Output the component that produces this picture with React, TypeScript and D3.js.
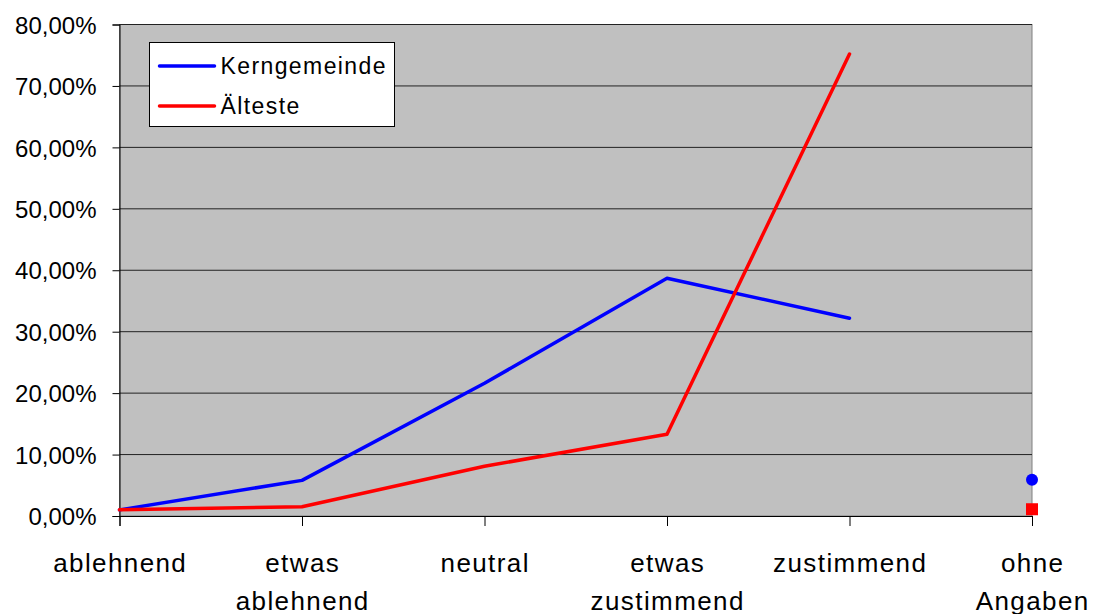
import { useEffect, useRef } from "react";
import * as d3 from "d3";

const WIDTH = 1093;
const HEIGHT = 614;
const MARGINS = {
  LEFT: 119.5,
  RIGHT: 61,
  TOP: 24.5,
  BOTTOM: 98,
};

// categories (second line of label after "|")
const categories = [
  "ablehnend",
  "etwas|ablehnend",
  "neutral",
  "etwas|zustimmend",
  "zustimmend",
  "ohne|Angaben",
];
const yTicks = [0, 10, 20, 30, 40, 50, 60, 70, 80];

// percent values, last category is drawn as a lone marker
const kerngemeinde = [1.0, 5.8, 21.6, 38.7, 32.2, 5.9];
const aelteste = [1.0, 1.5, 8.1, 13.3, 75.2, 1.1];

const seriesNames = ["Kerngemeinde", "Älteste"];
const seriesColors = ["#0000FF", "#FF0000"];

const FONT = "'Liberation Sans', Arial, sans-serif";

const App = () => {
  const svgRef = useRef<SVGSVGElement | null>(null);

  useEffect(() => {
    const svg = d3.select(svgRef.current);
    svg.selectAll("*").remove();

    const innerW = WIDTH - MARGINS.LEFT - MARGINS.RIGHT;
    const innerH = HEIGHT - MARGINS.TOP - MARGINS.BOTTOM;

    const xScale = d3
      .scalePoint<string>()
      .domain(categories)
      .range([0, innerW]);
    const yScale = d3.scaleLinear().domain([0, 80]).range([innerH, 0]);

    const g = svg
      .append("g")
      .attr("transform", `translate(${MARGINS.LEFT}, ${MARGINS.TOP})`);

    // plot background
    g.append("rect")
      .attr("width", innerW)
      .attr("height", innerH)
      .attr("fill", "#C0C0C0")
      .attr("stroke", "#808080")
      .attr("stroke-width", 1);

    // grid lines
    g.selectAll(".grid")
      .data(yTicks.slice(1))
      .join("line")
      .attr("class", "grid")
      .attr("x1", 0)
      .attr("x2", innerW)
      .attr("y1", (d) => yScale(d))
      .attr("y2", (d) => yScale(d))
      .attr("stroke", "#222")
      .attr("stroke-width", 1);

    // y axis
    const yAxis = d3
      .axisLeft(yScale)
      .tickValues(yTicks)
      .tickSize(7)
      .tickPadding(16)
      .tickFormat((d) => (d as number).toFixed(2).replace(".", ",") + "%");
    const yG = g.append("g").call(yAxis as any);
    yG.select(".domain").attr("stroke", "#000");
    yG.selectAll(".tick line").attr("stroke", "#000");
    yG.selectAll("text")
      .attr("font-family", FONT)
      .attr("font-size", 24)
      .attr("fill", "#000")
      .attr("dy", "0.36em");

    // x axis
    const xAxis = d3.axisBottom(xScale).tickSize(10).tickFormat(() => "");
    const xG = g
      .append("g")
      .attr("transform", `translate(0, ${innerH})`)
      .call(xAxis as any);
    xG.select(".domain").attr("stroke", "#000");
    xG.selectAll(".tick line").attr("stroke", "#000");

    const labels = g
      .append("g")
      .selectAll("text")
      .data(categories)
      .join("text")
      .attr("x", (d) => xScale(d)!)
      .attr("y", innerH + 56)
      .attr("text-anchor", "middle")
      .attr("font-family", FONT)
      .attr("font-size", 26)
      .attr("letter-spacing", 1.4)
      .attr("fill", "#000");
    labels.each(function (d) {
      const parts = d.split("|");
      d3.select(this)
        .selectAll("tspan")
        .data(parts)
        .join("tspan")
        .attr("x", xScale(d)! + 0.7)
        .attr("dy", (_, i) => (i === 0 ? 0 : 38))
        .text((p) => p);
    });

    // lines
    const allSeries = [kerngemeinde, aelteste];
    const lineGen = d3
      .line<number>()
      .x((_, i) => xScale(categories[i])!)
      .y((d) => yScale(d));

    allSeries.forEach((values, si) => {
      g.append("path")
        .datum(values.slice(0, 5))
        .attr("d", lineGen)
        .attr("fill", "none")
        .attr("stroke", seriesColors[si])
        .attr("stroke-width", 3.5)
        .attr("stroke-linejoin", "round")
        .attr("stroke-linecap", "round");
    });

    // lone markers for "ohne Angaben"
    const lastCat = categories[5];
    g.append("circle")
      .attr("cx", xScale(lastCat)!)
      .attr("cy", yScale(kerngemeinde[5]))
      .attr("r", 6)
      .attr("fill", seriesColors[0]);
    g.append("rect")
      .attr("x", xScale(lastCat)! - 6)
      .attr("y", yScale(aelteste[5]) - 6)
      .attr("width", 12)
      .attr("height", 12)
      .attr("fill", seriesColors[1]);

    // legend
    const legend = svg.append("g").attr("transform", "translate(149.5, 42.5)");
    legend
      .append("rect")
      .attr("width", 245)
      .attr("height", 84)
      .attr("fill", "#fff")
      .attr("stroke", "#000")
      .attr("stroke-width", 1);
    seriesNames.forEach((name, i) => {
      const y = 23.5 + i * 40;
      legend
        .append("line")
        .attr("x1", 10)
        .attr("x2", 65)
        .attr("y1", y)
        .attr("y2", y)
        .attr("stroke", seriesColors[i])
        .attr("stroke-width", 3.5)
        .attr("stroke-linecap", "round");
      legend
        .append("text")
        .attr("x", 71)
        .attr("y", y + 8)
        .attr("font-family", FONT)
        .attr("font-size", 23)
        .attr("letter-spacing", 1.4)
        .attr("fill", "#000")
        .text(name);
    });
  }, []);

  return (
    <svg
      ref={svgRef}
      width={WIDTH}
      height={HEIGHT}
      style={{ position: "absolute", top: 0, left: 0, background: "#fff" }}
    />
  );
};

export default App;
